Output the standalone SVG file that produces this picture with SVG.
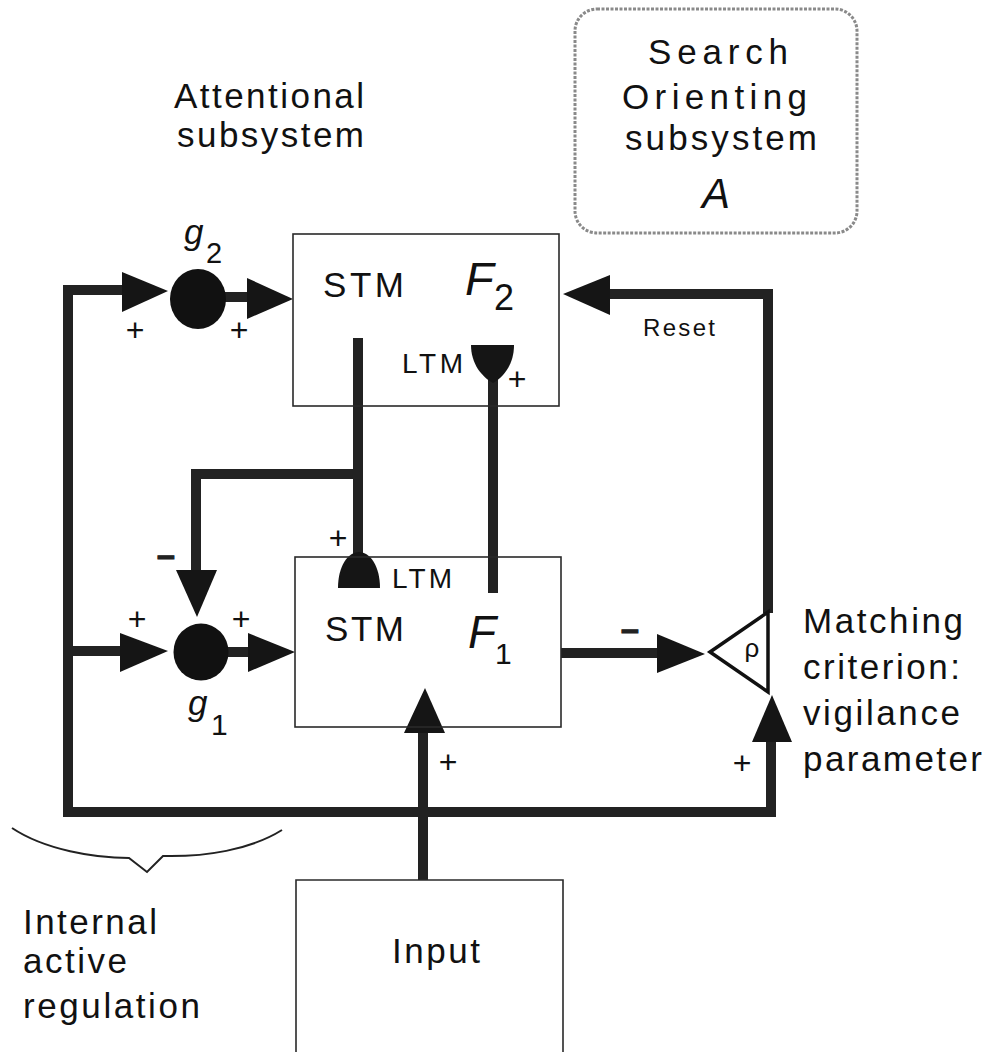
<svg xmlns="http://www.w3.org/2000/svg" width="989" height="1052" viewBox="0 0 989 1052">
<style>
.box{fill:none;stroke:#2a2a2a;stroke-width:1.6}
.ln{fill:none;stroke:#222;stroke-width:10;stroke-linejoin:miter}
.ah{fill:#151515}
.lbl{font-family:"Liberation Sans",Arial,sans-serif;font-size:35px;fill:#111}
.sm{font-family:"Liberation Sans",Arial,sans-serif;font-size:28px;fill:#111}
.it{font-family:"Liberation Sans",Arial,sans-serif;font-style:italic;fill:#111}
.sub{font-family:"Liberation Sans",Arial,sans-serif;font-style:normal;fill:#111}
.pl{font-family:"Liberation Sans",Arial,sans-serif;font-size:32px;fill:#111;text-anchor:middle}
.mn{font-family:"Liberation Sans",Arial,sans-serif;font-size:32px;font-weight:bold;fill:#222;stroke:#222;stroke-width:1.2;text-anchor:middle}
</style>
<rect width="989" height="1052" fill="#fff"/>

<g id="connectors">
  <path class="ln" d="M122,290 H68 V812 H771 V742"/>
  <path class="ln" d="M68,651 H120"/>
  <path class="ln" d="M222,297 H248"/>
  <path class="ln" d="M226,652 H249"/>
  <path class="ln" d="M358,338 V556"/>
  <path class="ln" d="M358,474 H196 V571"/>
  <path class="ln" d="M493,378 V593"/>
  <path class="ln" d="M561,653 H658"/>
  <path class="ln" d="M768,613 V294 H609"/>
  <path class="ln" d="M423,880 V732"/>
  <polygon class="ah" points="122,272 122,312 168,291"/>
  <polygon class="ah" points="247,278 247,319 293,299"/>
  <polygon class="ah" points="120,633 120,672 168,651"/>
  <polygon class="ah" points="248,633 248,672 295,652"/>
  <polygon class="ah" points="176,570 217,570 197,617"/>
  <polygon class="ah" points="657,634 657,673 705,654"/>
  <polygon class="ah" points="610,275 610,315 563,294"/>
  <polygon class="ah" points="752,742 792,742 772,695"/>
  <polygon class="ah" points="404,733 445,733 425,688"/>
  <path class="ah" d="M338,588 C338,566 348,552 359,552 C370,552 380,566 380,588 Z"/>
  <path class="ah" d="M471,345 L514,345 C514,364 504,377 493,383 C482,377 471,364 471,345 Z"/>
</g>

<g id="orienting">
  <rect x="575" y="9" width="282" height="224" rx="22" fill="none" stroke="#8a8a8a" stroke-width="3" stroke-dasharray="3 1.5"/>
  <text class="lbl" x="648" y="64" textLength="140" lengthAdjust="spacing">Search</text>
  <text class="lbl" x="622" y="109" textLength="185" lengthAdjust="spacing">Orienting</text>
  <text class="lbl" x="625" y="150" textLength="192" lengthAdjust="spacing">subsystem</text>
  <text class="it" x="716" y="208" font-size="42" text-anchor="middle">A</text>
</g>

<g id="attentional-label">
  <text class="lbl" x="174" y="108" font-size="33" textLength="190" lengthAdjust="spacing">Attentional</text>
  <text class="lbl" x="177" y="147" font-size="33" textLength="187" lengthAdjust="spacing">subsystem</text>
</g>

<g id="F2">
  <rect class="box" x="293" y="234" width="266" height="172"/>
  <text class="lbl" x="323" y="297" font-size="36" textLength="81" lengthAdjust="spacing">STM</text>
  <text class="it" x="465" y="295" font-size="47">F</text>
  <text class="sub" x="494" y="310" font-size="36">2</text>
  <text class="sm" x="402" y="373" textLength="61" lengthAdjust="spacing">LTM</text>
</g>

<g id="F1">
  <rect class="box" x="295" y="557" width="266" height="170"/>
  <text class="lbl" x="325" y="641" font-size="35" textLength="79" lengthAdjust="spacing">STM</text>
  <text class="it" x="468" y="648" font-size="46">F</text>
  <text class="sub" x="495" y="664" font-size="30">1</text>
  <text class="sm" x="392" y="588" textLength="60" lengthAdjust="spacing">LTM</text>
</g>

<g id="g2">
  <ellipse cx="198" cy="299" rx="28" ry="30" fill="#111"/>
  <text class="it" x="184" y="244" font-size="35">g</text>
  <text class="sub" x="206" y="263" font-size="29">2</text>
</g>

<g id="g1">
  <ellipse cx="201" cy="652" rx="27.5" ry="28.5" fill="#111"/>
  <text class="it" x="188" y="715" font-size="35">g</text>
  <text class="sub" x="211" y="735" font-size="30">1</text>
</g>

<g id="vigilance">
  <polygon points="710,652 768,612 768,692" fill="#fff" stroke="#111" stroke-width="3.5" stroke-linejoin="miter"/>
  <text x="752" y="657" font-family="Liberation Sans, Arial, sans-serif" font-size="26" fill="#111" text-anchor="middle">ρ</text>
  <text class="lbl" x="803" y="633" textLength="160" lengthAdjust="spacing">Matching</text>
  <text class="lbl" x="803" y="679" textLength="157" lengthAdjust="spacing">criterion:</text>
  <text class="lbl" x="803" y="725" textLength="157" lengthAdjust="spacing">vigilance</text>
  <text class="lbl" x="803" y="771" textLength="179" lengthAdjust="spacing">parameter</text>
</g>

<g id="input">
  <path class="box" d="M296,1052 V880 H563 V1052"/>
  <text class="lbl" x="392" y="963" textLength="88" lengthAdjust="spacing">Input</text>
</g>

<g id="internal-regulation">
  <path d="M12,828 C45,850 95,858 129,858 L147,872 L163,856 C205,857 250,850 282,830" fill="none" stroke="#222" stroke-width="2"/>
  <text class="lbl" x="23" y="934" textLength="134" lengthAdjust="spacing">Internal</text>
  <text class="lbl" x="23" y="973" textLength="104" lengthAdjust="spacing">active</text>
  <text class="lbl" x="23" y="1018" textLength="177" lengthAdjust="spacing">regulation</text>
</g>

<g id="signs">
  <text class="pl" x="135" y="341">+</text>
  <text class="pl" x="239" y="341">+</text>
  <text class="pl" x="517" y="390">+</text>
  <text class="pl" x="338" y="549">+</text>
  <text class="pl" x="137" y="630">+</text>
  <text class="pl" x="241" y="630">+</text>
  <text class="pl" x="448" y="773">+</text>
  <text class="pl" x="742" y="774">+</text>
  <text class="mn" x="166" y="566">–</text>
  <text class="mn" x="630" y="640">–</text>
  <text x="679" y="336" font-family="Liberation Sans, Arial, sans-serif" font-size="24" fill="#111" text-anchor="middle" textLength="72" lengthAdjust="spacing">Reset</text>
</g>
</svg>
